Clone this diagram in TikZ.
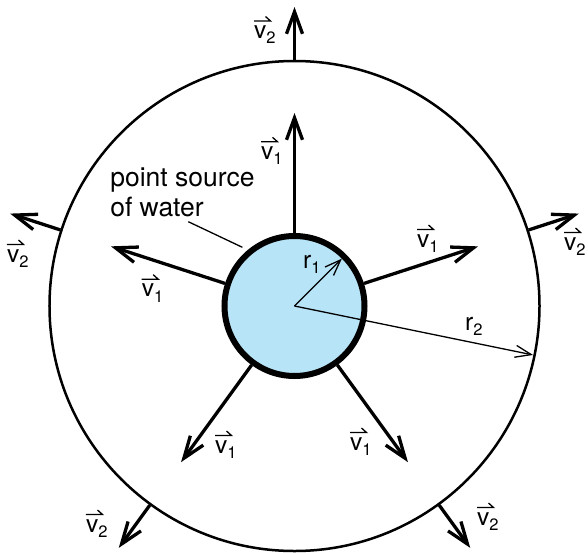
\documentclass[tikz,border=0pt]{standalone}
\usepackage{fontspec}
\setmainfont{TeX Gyre Heros}
\usetikzlibrary{arrows.meta}
\definecolor{water}{RGB}{184,228,247}
\newcommand\subsz[1]{\raisebox{-5.5pt}{\fontsize{16.5}{17}\selectfont #1}}
\newcommand\mkvlab[3]{%
  \node[lab] (#1) at (#2) {v\subsz{#3}};
  \draw[harp] ([shift={(0,17.5)}]#1.base west) -- ++(16.5,0) -- ++(-5,4.5);
}
\begin{document}
\begin{tikzpicture}[x=1pt,y=1pt,
  varr/.style={line width=3.3pt, -{Straight Barb[length=22pt,width=16pt]}},
  rarr/.style={line width=1.3pt, -{Straight Barb[length=16pt,width=12pt]}},
  lab/.style={inner sep=0pt, anchor=base west, font=\fontsize{24.5}{27}\selectfont},
  harp/.style={line width=1.3pt, line cap=butt, line join=miter},
  leader/.style={line width=1.3pt}
]
\useasboundingbox (-294.5,-246) rectangle (293.5,306);
\node[circle, draw, line width=2.5pt, minimum size=490pt, inner sep=0pt] (outer) at (0,0) {};
\node[circle, draw, line width=6pt, fill=water, minimum size=140pt, inner sep=0pt] (src) at (0,0) {};

\foreach \a/\i in {90/1,18/2,-54/3,-126/4,162/5}{
  \coordinate (t\i) at (\a:193);
  \coordinate (u\i) at (\a:299);
  \draw[varr] (src.\a) -- (t\i);
  \draw[varr] (outer.\a) -- (u\i);
}

\coordinate (r1e) at (45:67);
\coordinate (r2e) at (-11.6:243.5);
\draw[rarr] (src.center) -- (r1e);
\draw[rarr] (src.center) -- (r2e);

\node[lab] (r1l) at (8.5,38) {r\subsz{1}};
\node[lab] (r2l) at (170.5,-24) {r\subsz{2}};

\mkvlab{v2top}{-40.5,267.5}{2}
\mkvlab{v1top}{-33.5,146.7}{1}
\mkvlab{v1ur}{122.5,59}{1}
\mkvlab{v1l}{-152.8,9.3}{1}
\mkvlab{v2l}{-287.5,44}{2}
\mkvlab{v2r}{269.5,56}{2}
\mkvlab{v1ll}{-79.5,-147}{1}
\mkvlab{v1lr}{55.5,-144}{1}
\mkvlab{v2ll}{-208.5,-226}{2}
\mkvlab{v2lr}{182.5,-219}{2}

\node[inner sep=0pt, anchor=base west, align=left, font=\fontsize{26.5}{30}\selectfont] (ps) at (-184.4,89.3) {point source\\of water};
\coordinate (leadA) at (-106.2,84.3);
\coordinate (leadB) at (131.6:78.5);
\draw[leader] (leadA) -- (leadB);
\end{tikzpicture}
\end{document}
